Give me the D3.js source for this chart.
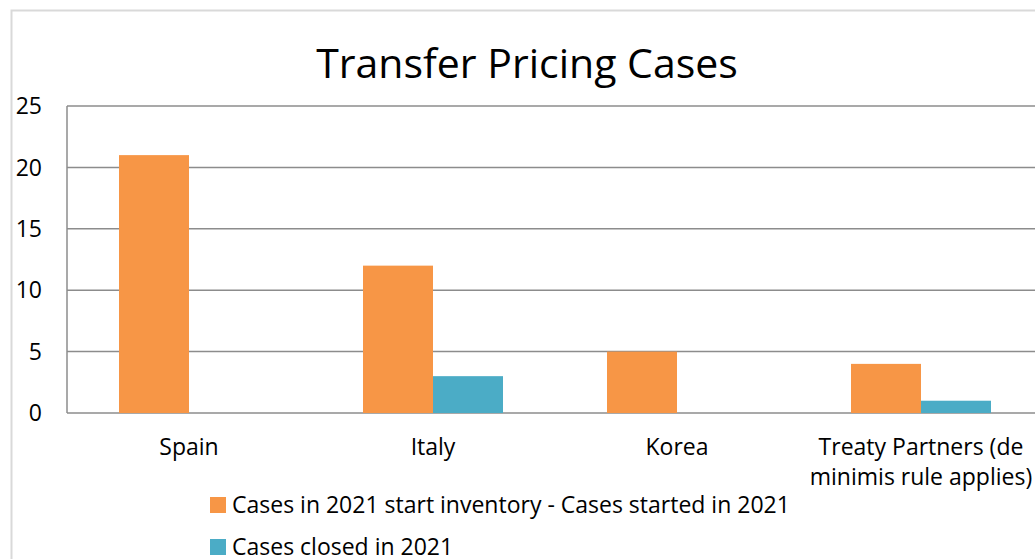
<!DOCTYPE html>
<html>
<head>
<meta charset="utf-8">
<script src="https://cdn.jsdelivr.net/npm/d3@7"></script>
<style>
  body { margin: 0; background: #fff; }
  text { font-family: "Open Sans", sans-serif; fill: #000; }
</style>
</head>
<body>
<div id="chart"></div>
<script>
const categories = ["Spain", "Italy", "Korea", "Treaty Partners (de|minimis rule applies)"];
const seriesNames = ["Cases in 2021 start inventory - Cases started in 2021", "Cases closed in 2021"];
const startedValues = [21, 12, 5, 4];
const closedValues = [0, 3, 0, 1];
const yTicks = [0, 5, 10, 15, 20, 25];
const colors = ["#f79646", "#4bacc6"];

const W = 1035, H = 559;
const margin = { top: 106, left: 67, bottom: 146 };
const plotRight = 1043;

const svg = d3.select("#chart")
  .append("svg")
    .attr("width", W)
    .attr("height", H);

// outer chart border
svg.append("rect")
  .attr("x", 11.5).attr("y", 10.5)
  .attr("width", W + 20).attr("height", H + 20)
  .attr("fill", "none")
  .attr("stroke", "#d9d9d9")
  .attr("stroke-width", 2);

const x = d3.scaleBand()
  .domain(categories)
  .range([margin.left, plotRight]);

const x1 = d3.scaleBand()
  .domain([0, 1])
  .range([0, 140]);

const y = d3.scaleLinear()
  .domain([0, 25])
  .range([H - margin.bottom, margin.top]);

// gridlines
svg.append("g")
  .selectAll("line")
  .data(yTicks)
  .enter().append("line")
    .attr("x1", margin.left)
    .attr("x2", plotRight)
    .attr("y1", d => y(d))
    .attr("y2", d => y(d))
    .attr("stroke", "#8c8c8c")
    .attr("stroke-width", 1.5);

// y axis line
svg.append("line")
  .attr("x1", margin.left).attr("x2", margin.left)
  .attr("y1", y(0)).attr("y2", y(25))
  .attr("stroke", "#8c8c8c")
  .attr("stroke-width", 1.5);

// y tick labels
svg.append("g")
  .selectAll("text")
  .data(yTicks)
  .enter().append("text")
    .attr("x", 42)
    .attr("y", d => y(d))
    .attr("dy", "0.36em")
    .attr("text-anchor", "end")
    .style("font-size", "23px")
    .text(d => d);

// bars
const series = [startedValues, closedValues];
series.forEach((vals, s) => {
  svg.append("g")
    .selectAll("rect")
    .data(vals)
    .enter().append("rect")
      .attr("x", (d, i) => x(categories[i]) + x.bandwidth() / 2 - 70 + x1(s))
      .attr("y", d => y(d))
      .attr("width", x1.bandwidth())
      .attr("height", d => y(0) - y(d))
      .attr("fill", colors[s]);
});

// category labels
const catG = svg.append("g");
categories.forEach(c => {
  const lines = c.split("|");
  const t = catG.append("text")
    .attr("x", x(c) + x.bandwidth() / 2)
    .attr("y", 455)
    .attr("text-anchor", "middle")
    .style("font-size", "23px");
  lines.forEach((l, i) => {
    t.append("tspan")
      .attr("x", x(c) + x.bandwidth() / 2)
      .attr("dy", i === 0 ? 0 : 30)
      .text(l);
  });
});

// title
svg.append("text")
  .attr("x", 527)
  .attr("y", 78)
  .attr("text-anchor", "middle")
  .style("font-size", "41px")
  .text("Transfer Pricing Cases");

// legend
const legend = svg.append("g")
  .selectAll("g")
  .data(seriesNames)
  .enter().append("g")
    .attr("transform", (d, i) => `translate(210,${497 + i * 42})`);

legend.append("rect")
  .attr("width", 16).attr("height", 16)
  .attr("fill", (d, i) => colors[i]);

legend.append("text")
  .attr("x", 22)
  .attr("y", 8)
  .attr("dy", "0.36em")
  .style("font-size", "23px")
  .text(d => d);
</script>
</body>
</html>
